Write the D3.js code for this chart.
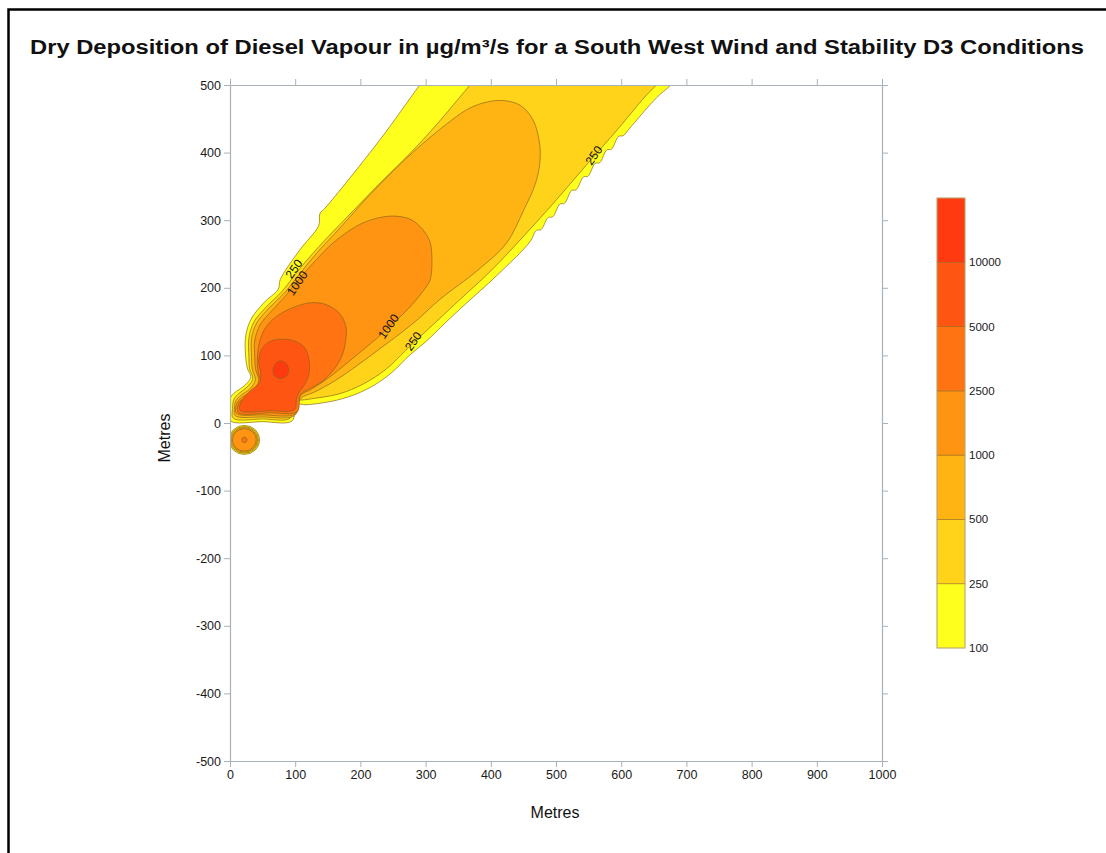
<!DOCTYPE html>
<html>
<head>
<meta charset="utf-8">
<script src="https://cdn.jsdelivr.net/npm/d3@7"></script>
<style>
  html, body { margin: 0; padding: 0; background: #fff; }
  svg { display: block; }
  text { font-family: "Liberation Sans Narrow", "Liberation Sans", Arial, sans-serif; }
</style>
</head>
<body>
<svg id="chart" width="1106" height="853"></svg>
<script>
// ---------------- DATA ----------------
const titleText = "Dry Deposition of Diesel Vapour in µg/m³/s for a South West Wind and Stability D3 Conditions";
const xTicks = [0, 100, 200, 300, 400, 500, 600, 700, 800, 900, 1000];
const yTicks = [-500, -400, -300, -200, -100, 0, 100, 200, 300, 400, 500];
const levels = [100, 250, 500, 1000, 2500, 5000, 10000];
const levelLabels = ["100", "250", "500", "1000", "2500", "5000", "10000"];
const bandColors = ["#FFFF1E", "#FFD31A", "#FFB414", "#FF9312", "#FF7312", "#FF5512", "#FF3A10"];

// contour polygons of the plume (metres), outermost level first
const contour100 = [[1,3],[0,20],[1,38],[10,47],[22,55],[32,68],[27,80],[24,98],[24,128],[32,153],[52,178],[74,198],[77,212],[107,256],[136,292],[138,310],[146,318],[230,419],[291,500],[330,550],[720,550],[676,500],[654,481],[613,436],
  [603,425],[596,424],[585,405],[578,404],[567,385],[560,384],[549,365],[542,364],[531,345],[524,344],[513,325],[506,324],[495,305],[488,304],[477,286],[470,285],
  [460,268],[409,218],[360,175],[330,148],[300,120],[275,100],[245,72],[210,50],[169,35],[118,27],[102,27],[95,3],[50,2]];
const contour250 = [[5,7],[4,22],[6,35],[14,44],[26,53],[35,66],[30,80],[29,98],[29,126],[37,150],[57,173],[80,195],[110,232],[145,270],[180,305],[220,345],[296,419],[368,500],[410,550],[700,550],[654,500],[635,481],[596,436],[546,381],[496,325],[450,276],[400,225],[352,182],[322,155],[292,128],[268,106],[240,80],[205,58],[167,43],[120,35],[100,31],[92,7],[50,6]];
const contour500 = [[8,11],[7,24],[9,33],[17,41],[30,50],[39,64],[34,80],[33,98],[33,125],[41,148],[60,170],[83,192],[100,212],[130,248],[170,290],[215,338],[280,400],[340,448],[368,466],[395,475],[419,477],[445,470],[465,448],[475,412],[475,383],[468,353],[450,314],[424,266],[380,226],[322,183],[290,155],[262,133],[230,110],[195,85],[160,62],[130,46],[108,36],[99,11],[50,9]];
const contour1000 = [[10,14],[9,25],[12,32],[20,39],[34,47],[44,62],[39,80],[38,98],[38,122],[46,145],[64,166],[85,188],[101,207],[128,237],[160,268],[204,296],[245,306],[275,302],[291,291],[305,272],[309,256],[307,212],[296,195],[281,177],[262,158],[245,143],[225,125],[200,105],[175,85],[150,66],[125,50],[108,40],[101,14],[50,12]];
const contour2500 = [[13,15],[12,26],[15,32],[24,37],[38,44],[47,58],[43,75],[42,98],[46,122],[56,143],[75,160],[100,172],[125,178],[148,175],[168,162],[178,142],[177,120],[172,100],[160,80],[142,62],[125,52],[108,42],[103,17],[60,15]];
const contour5000 = [[16,18],[15,26],[18,33],[28,45],[45,60],[47,75],[44,90],[48,108],[60,120],[80,124],[100,121],[114,112],[121,95],[121,72],[114,56],[106,46],[102,36],[99,20],[60,18]];
const contour10000 = [[78,92],[86,88],[90,79],[87,70],[78,66],[69,69],[66,79],[70,88]];

// small source south of origin: centre and radii (metres) per level
const sourceCentre = [22, -25];
const sourceLevels = [100, 250, 500, 1000, 2500];
const sourceRadiiX = [23.5, 21.8, 20.0, 18.3, 4];
const sourceRadiiY = [21.5, 19.8, 18.2, 16.6, 4];

// contour labels
const contourLabelText = ["250", "1000", "1000", "250", "250"];
const contourLabelX = [98, 103, 243, 281, 558];
const contourLabelY = [228, 207, 143, 121, 396];

// ---------------- DRAWING ----------------
const svg = d3.select("#chart");
const x = d3.scaleLinear().domain([0, 1000]).range([230, 882]);
const y = d3.scaleLinear().domain([-500, 500]).range([761, 85]);
const colorOf = d3.scaleOrdinal().domain(levels).range(bandColors);

// outer frame (only top and left edges visible)
svg.append("rect").attr("x", 8.5).attr("y", 9.5).attr("width", 1200).attr("height", 1000)
  .attr("fill", "none").attr("stroke", "#000").attr("stroke-width", 2.5);

svg.append("text").attr("x", 30).attr("y", 54)
  .attr("font-size", 20).attr("font-weight", "bold").attr("fill", "#111")
  .attr("textLength", 1054).attr("lengthAdjust", "spacingAndGlyphs")
  .style("font-family", "'Liberation Sans', Arial, sans-serif")
  .text(titleText);

svg.append("clipPath").attr("id", "plotclip").append("rect")
  .attr("x", x(0)).attr("y", y(500)).attr("width", x(1000) - x(0)).attr("height", y(-500) - y(500));

const plot = svg.append("g").attr("clip-path", "url(#plotclip)");
const line = d3.line().x(d => x(d[0])).y(d => y(d[1])).curve(d3.curveCatmullRomClosed.alpha(0.5));

const plume = [
  {level: 100, pts: contour100},
  {level: 250, pts: contour250},
  {level: 500, pts: contour500},
  {level: 1000, pts: contour1000},
  {level: 2500, pts: contour2500},
  {level: 5000, pts: contour5000},
  {level: 10000, pts: contour10000}
];
plot.selectAll("path.band").data(plume).enter().append("path")
  .attr("class", "band")
  .attr("d", d => line(d.pts))
  .attr("fill", d => colorOf(d.level))
  .attr("stroke", "#8a6418").attr("stroke-opacity", 0.75).attr("stroke-width", 0.9);

plot.selectAll("ellipse.src").data(sourceLevels).enter().append("ellipse")
  .attr("class", "src")
  .attr("cx", x(sourceCentre[0])).attr("cy", y(sourceCentre[1]))
  .attr("rx", (d, i) => x(sourceRadiiX[i]) - x(0))
  .attr("ry", (d, i) => y(0) - y(sourceRadiiY[i]))
  .attr("fill", d => colorOf(d))
  .attr("stroke", "#8a6418").attr("stroke-opacity", 0.75).attr("stroke-width", 0.9);

plot.selectAll("text.clab").data(contourLabelText).enter().append("text")
  .attr("class", "clab")
  .attr("transform", (d, i) => `translate(${x(contourLabelX[i])},${y(contourLabelY[i])}) rotate(-55)`)
  .attr("text-anchor", "middle").attr("dy", "0.35em")
  .attr("font-size", 12).attr("fill", "#111")
  .text(d => d);

// axes
const axisColor = "#a9b1ba";
function styleAxis(g) {
  g.select(".domain").attr("stroke", axisColor).attr("stroke-width", 1.2);
  g.selectAll(".tick line").attr("stroke", axisColor).attr("stroke-width", 1);
  g.selectAll(".tick text").attr("fill", "#1a1a1a").attr("font-size", 12.5)
    .style("font-family", "'Liberation Sans Narrow', 'Liberation Sans', Arial, sans-serif");
}
const fmt = d => String(d);
svg.append("g").attr("transform", `translate(0,${y(-500)})`)
  .call(d3.axisBottom(x).tickValues(xTicks).tickSize(6).tickSizeOuter(0).tickPadding(3).tickFormat(fmt))
  .call(styleAxis);
svg.append("g").attr("transform", `translate(0,${y(500)})`)
  .call(d3.axisTop(x).tickValues(xTicks).tickSize(6).tickSizeOuter(0).tickFormat(""))
  .call(styleAxis);
svg.append("g").attr("transform", `translate(${x(0)},0)`)
  .call(d3.axisLeft(y).tickValues(yTicks).tickSize(6).tickSizeOuter(0).tickPadding(3).tickFormat(fmt))
  .call(styleAxis);
svg.append("g").attr("transform", `translate(${x(1000)},0)`)
  .call(d3.axisRight(y).tickValues(yTicks).tickSize(6).tickSizeOuter(0).tickFormat(""))
  .call(styleAxis);
svg.selectAll(".tick text").attr("font-family", null);

svg.append("text").attr("x", 555).attr("y", 818).attr("text-anchor", "middle")
  .attr("font-size", 16).attr("fill", "#111").text("Metres");
svg.append("text").attr("transform", `translate(170,${y(0) + 15}) rotate(-90)`)
  .attr("text-anchor", "middle").attr("font-size", 16).attr("fill", "#111").text("Metres");

// colour bar legend
const ly = d3.scaleLinear().domain([0, levels.length]).range([648, 198]);
const lg = svg.append("g");
lg.selectAll("rect.lb").data(levels).enter().append("rect")
  .attr("class", "lb")
  .attr("x", 937).attr("width", 28)
  .attr("y", (d, i) => ly(i + 1)).attr("height", (d, i) => ly(i) - ly(i + 1))
  .attr("fill", d => colorOf(d))
  .attr("stroke", "#8a6418").attr("stroke-opacity", 0.6).attr("stroke-width", 0.8);
lg.append("rect").attr("x", 937).attr("y", ly(levels.length)).attr("width", 28)
  .attr("height", ly(0) - ly(levels.length)).attr("fill", "none")
  .attr("stroke", "#c9b98a").attr("stroke-width", 0.8);
lg.selectAll("text.ll").data(levelLabels).enter().append("text")
  .attr("class", "ll")
  .attr("x", 969).attr("y", (d, i) => ly(i)).attr("dy", "0.35em")
  .attr("font-size", 11.5).attr("fill", "#1a1a1a").text(d => d);
</script>
</body>
</html>
